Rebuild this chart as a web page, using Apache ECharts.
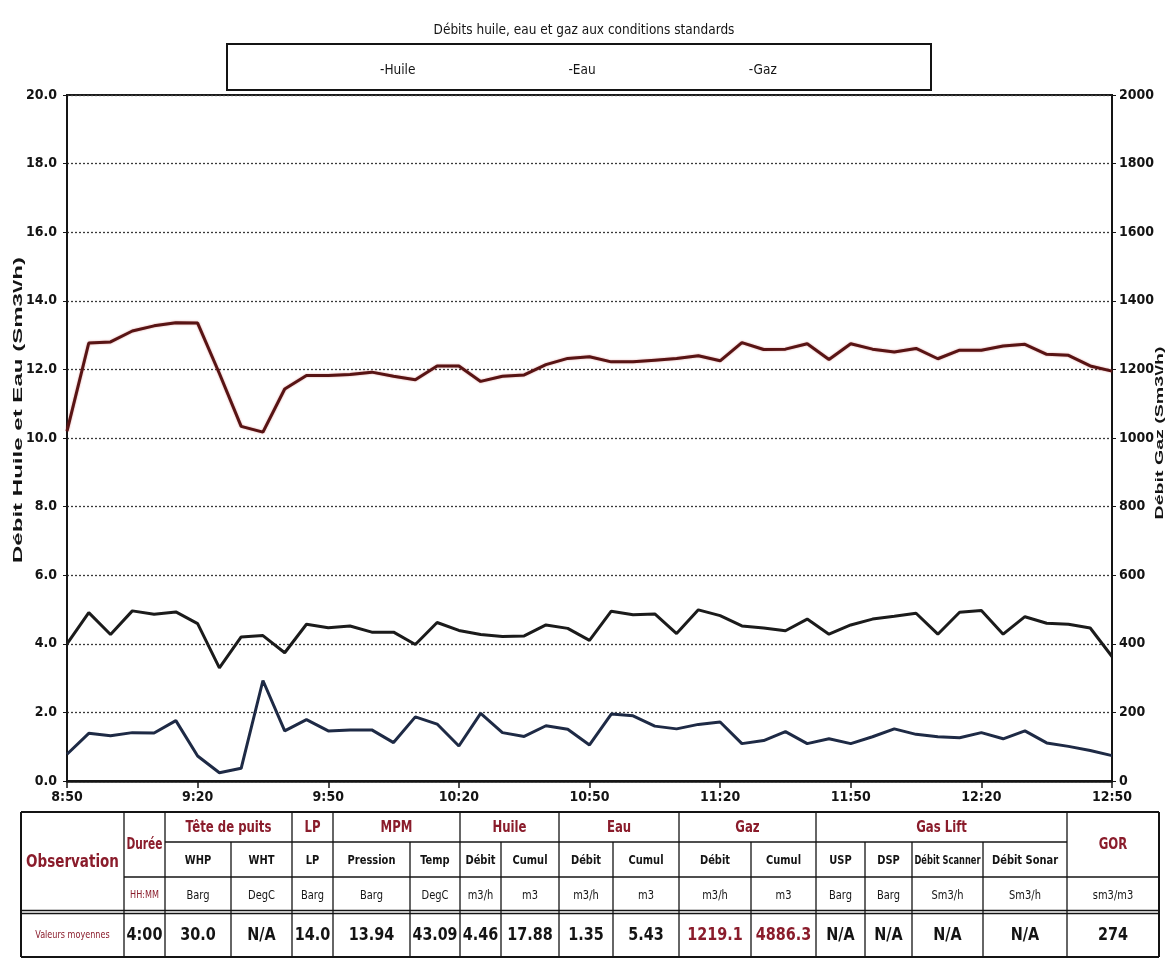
<!DOCTYPE html>
<html>
<head>
<meta charset="utf-8">
<title>Débits huile, eau et gaz aux conditions standards</title>
<script src="https://cdn.jsdelivr.net/npm/echarts@6/dist/echarts.min.js"></script>
<style>
  html, body { margin: 0; padding: 0; background: #fff; }
  #chart { width: 1168px; height: 963px; }
</style>
</head>
<body>
<div id="chart"></div>
<script>
// ---- Measured data (5-minute averages) ----
const times = ["8:50","8:55","9:00","9:05","9:10","9:15","9:20","9:25","9:30","9:35","9:40","9:45",
  "9:50","9:55","10:00","10:05","10:10","10:15","10:20","10:25","10:30","10:35","10:40","10:45",
  "10:50","10:55","11:00","11:05","11:10","11:15","11:20","11:25","11:30","11:35","11:40","11:45",
  "11:50","11:55","12:00","12:05","12:10","12:15","12:20","12:25","12:30","12:35","12:40","12:45","12:50"];

// Oil flow (Sm3/h) - left axis
const huile = [4.00,4.91,4.27,4.96,4.86,4.93,4.59,3.30,4.20,4.24,3.74,4.57,
  4.47,4.52,4.34,4.34,3.98,4.62,4.39,4.27,4.21,4.23,4.55,4.45,
  4.10,4.95,4.85,4.87,4.30,4.99,4.82,4.52,4.46,4.38,4.72,4.28,
  4.55,4.72,4.80,4.89,4.28,4.92,4.97,4.28,4.79,4.60,4.57,4.46,3.63];

// Water flow (Sm3/h) - left axis
const eau = [0.78,1.39,1.32,1.41,1.40,1.76,0.73,0.24,0.37,2.93,1.46,1.79,
  1.46,1.49,1.49,1.12,1.87,1.66,1.02,1.97,1.41,1.30,1.61,1.51,
  1.05,1.95,1.90,1.60,1.52,1.65,1.72,1.09,1.18,1.44,1.09,1.23,
  1.09,1.29,1.52,1.36,1.29,1.26,1.41,1.23,1.46,1.11,1.01,0.89,0.74];

// Gas flow (Sm3/h) - right axis
const gaz = [1020,1277,1280,1312,1327,1336,1335,1188,1034,1017,1143,1182,
  1182,1185,1192,1180,1170,1210,1210,1165,1180,1184,1214,1232,
  1237,1222,1222,1227,1232,1240,1225,1278,1258,1259,1275,1229,
  1275,1259,1251,1261,1231,1256,1256,1268,1273,1244,1241,1210,1195];

// ---- Summary table content ----
const groupHeaders = [
  { text: 'Observation',   cols: 1, rows: 3 },
  { text: 'Durée',         cols: 1, rows: 2 },
  { text: 'Tête de puits', cols: 2, rows: 1 },
  { text: 'LP',            cols: 1, rows: 1 },
  { text: 'MPM',           cols: 2, rows: 1 },
  { text: 'Huile',         cols: 2, rows: 1 },
  { text: 'Eau',           cols: 2, rows: 1 },
  { text: 'Gaz',           cols: 2, rows: 1 },
  { text: 'Gas Lift',      cols: 4, rows: 1 },
  { text: 'GOR',           cols: 1, rows: 2 }
];
const subHeaders = [null, null, 'WHP', 'WHT', 'LP', 'Pression', 'Temp', 'Débit', 'Cumul', 'Débit', 'Cumul',
  'Débit', 'Cumul', 'USP', 'DSP', 'Débit Scanner', 'Débit Sonar', null];
const units = [null, 'HH:MM', 'Barg', 'DegC', 'Barg', 'Barg', 'DegC', 'm3/h', 'm3', 'm3/h', 'm3',
  'm3/h', 'm3', 'Barg', 'Barg', 'Sm3/h', 'Sm3/h', 'sm3/m3'];
const averages = ['Valeurs moyennes', '4:00', '30.0', 'N/A', '14.0', '13.94', '43.09', '4.46', '17.88',
  '1.35', '5.43', '1219.1', '4886.3', 'N/A', 'N/A', 'N/A', 'N/A', '274'];
const redValueCols = [11, 12];

// ---- Layout ----
const colEdges = [21, 124, 165, 231, 292, 333, 410, 460, 501, 559, 613, 679, 751, 816, 865, 912, 983, 1067, 1159];
const rowEdges = [812, 842, 877, 912, 957];

const NARROW = '"Liberation Sans Narrow","Arial Narrow","DejaVu Sans Condensed",sans-serif';
const SANS = '"Liberation Sans",Arial,Helvetica,sans-serif';
const RED = '#8a1c2b';
const INK = '#141414';

const measureCtx = document.createElement('canvas').getContext('2d');
function textWidth(font, s) { measureCtx.font = font; return measureCtx.measureText(s).width; }

// Vertical axis title stretched along its reading direction
function axisTitle(text, cx, cy, font, length) {
  const w = textWidth(font, text);
  return {
    type: 'text', x: cx, y: cy, rotation: Math.PI / 2, scaleX: length / w, z: 10,
    style: { text: text, font: font, fill: INK, align: 'center', verticalAlign: 'middle' }
  };
}

// Builds the summary table under the chart
function buildTable() {
  const els = [];
  const line = (x1, y1, x2, y2, w) => els.push({
    type: 'line', z: 10, shape: { x1, y1, x2, y2 }, style: { stroke: INK, lineWidth: w }
  });
  // text squeezed horizontally when wider than its cell, slightly tall like a condensed face
  const label = (x, y, s, font, fill, cellW) => {
    const w = textWidth(font, s);
    const sx = Math.min(1, (cellW - 5) / w);
    els.push({
      type: 'text', x, y, z: 11, scaleX: sx, scaleY: 1.15,
      style: { text: s, font, fill, align: 'center', verticalAlign: 'middle' }
    });
  };
  const left = colEdges[0], right = colEdges[colEdges.length - 1];
  const top = rowEdges[0], bottom = rowEdges[rowEdges.length - 1];

  // outer frame
  line(left, top, right, top, 2);
  line(left, bottom, right, bottom, 2);
  line(left, top, left, bottom, 2);
  line(right, top, right, bottom, 2);

  // group headers, their borders and row separators
  let c = 0;
  const groupStarts = new Set([0]);
  groupHeaders.forEach((gh, i) => {
    const x0 = colEdges[c], x1 = colEdges[c + gh.cols];
    const y1 = rowEdges[gh.rows];
    let font = 'bold 13px ' + NARROW;
    if (i === 0) font = 'bold 15px ' + NARROW;
    label((x0 + x1) / 2, (top + y1) / 2 + 1, gh.text, font, RED, x1 - x0);
    for (let k = gh.rows; k <= 2; k++) line(x0, rowEdges[k], x1, rowEdges[k], 1.3);
    c += gh.cols;
    groupStarts.add(c);
  });
  // double rule above the averages row
  line(left, rowEdges[3] - 1.5, right, rowEdges[3] - 1.5, 1.3);
  line(left, rowEdges[3] + 1.5, right, rowEdges[3] + 1.5, 1.3);

  // inner vertical borders
  for (let i = 1; i < colEdges.length - 1; i++) {
    const fromY = groupStarts.has(i) ? top : rowEdges[1];
    line(colEdges[i], fromY, colEdges[i], bottom, 1.3);
  }

  // sub headers, units and averages
  for (let i = 0; i < colEdges.length - 1; i++) {
    const cx = (colEdges[i] + colEdges[i + 1]) / 2;
    const cw = colEdges[i + 1] - colEdges[i];
    if (subHeaders[i]) label(cx, (rowEdges[1] + rowEdges[2]) / 2 + 1, subHeaders[i], 'bold 11px ' + NARROW, INK, cw);
    if (units[i]) {
      const red = i === 1;
      label(cx, (rowEdges[2] + rowEdges[3]) / 2 + 1, units[i], (red ? '9px ' : '11px ') + NARROW, red ? RED : INK, cw);
    }
    const v = averages[i];
    if (i === 0) {
      label(cx, (rowEdges[3] + bottom) / 2 + 1, v, '9px ' + NARROW, RED, cw);
    } else {
      label(cx, (rowEdges[3] + bottom) / 2 + 1, v, 'bold 16px ' + NARROW, redValueCols.includes(i) ? RED : INK, cw);
    }
  }
  return els;
}

const chart = echarts.init(document.getElementById('chart'), null, { renderer: 'canvas' });

const axisLabelStyle = { fontFamily: NARROW, fontWeight: 'bold', fontSize: 14, color: INK };

const option = {
  animation: false,
  backgroundColor: '#ffffff',
  title: {
    text: 'Débits huile, eau et gaz aux conditions standards',
    left: 'center', top: 23, padding: 0,
    textStyle: { fontFamily: NARROW, fontWeight: 'normal', fontSize: 13.5, color: INK }
  },
  legend: {
    data: ['Huile', 'Eau', 'Gaz'],
    left: 375, top: 63, padding: 0,
    itemWidth: 0, itemHeight: 0, itemGap: 148,
    icon: 'rect',
    formatter: '-{name}',
    textStyle: { fontFamily: NARROW, fontSize: 13.5, color: INK },
    selectedMode: false
  },
  grid: {
    left: 67, right: 56, top: 95, bottom: 182,
    show: true, borderColor: '#1a1a1a', borderWidth: 2,
    outerBoundsMode: 'none'
  },
  xAxis: {
    type: 'category',
    data: times,
    boundaryGap: false,
    axisLine: { lineStyle: { color: INK, width: 2.5 } },
    axisTick: { show: true, interval: 5, length: 7, lineStyle: { color: INK, width: 1.5 } },
    axisLabel: Object.assign({ interval: 5, margin: 9 }, axisLabelStyle),
    splitLine: { show: false }
  },
  yAxis: [
    {
      type: 'value', min: 0, max: 20, interval: 2,
      axisLine: { show: true, lineStyle: { color: INK, width: 1.5 } },
      axisTick: { show: true, length: 4, lineStyle: { color: INK } },
      axisLabel: Object.assign({ margin: 10, formatter: v => v.toFixed(1) }, axisLabelStyle),
      splitLine: { show: true, lineStyle: { color: '#3a3a3a', width: 1.3, type: [2, 2] } }
    },
    {
      type: 'value', min: 0, max: 2000, interval: 200, position: 'right',
      axisLine: { show: true, lineStyle: { color: INK, width: 1.5 } },
      axisTick: { show: true, length: 4, lineStyle: { color: INK } },
      axisLabel: Object.assign({ margin: 7, formatter: v => String(v) }, axisLabelStyle),
      splitLine: { show: false }
    }
  ],
  series: [
    {
      name: 'Gaz', type: 'line', yAxisIndex: 1, data: gaz,
      symbol: 'none', smooth: false, z: 3,
      color: '#5e1515',
      lineStyle: { color: '#581414', width: 3, shadowColor: 'rgba(180,30,30,0.45)', shadowBlur: 2 }
    },
    {
      name: 'Huile', type: 'line', yAxisIndex: 0, data: huile,
      symbol: 'none', smooth: false, z: 3,
      color: '#1b1b1b',
      lineStyle: { color: '#1b1b1b', width: 3 }
    },
    {
      name: 'Eau', type: 'line', yAxisIndex: 0, data: eau,
      symbol: 'none', smooth: false, z: 3,
      color: '#1e2a45',
      lineStyle: { color: '#1e2a45', width: 3 }
    }
  ],
  graphic: [
    // legend frame
    {
      type: 'rect', z: 5, shape: { x: 227, y: 44, width: 704, height: 46 },
      style: { fill: 'none', stroke: INK, lineWidth: 2 }
    },
    axisTitle('Débit Huile et Eau (Sm3\\/h)', 18, 410, 'bold 13px ' + SANS, 306),
    axisTitle('Débit Gaz (Sm3\\/h)', 1160, 433, 'bold 10px ' + SANS, 173)
  ].concat(buildTable())
};

chart.setOption(option);
</script>
</body>
</html>
